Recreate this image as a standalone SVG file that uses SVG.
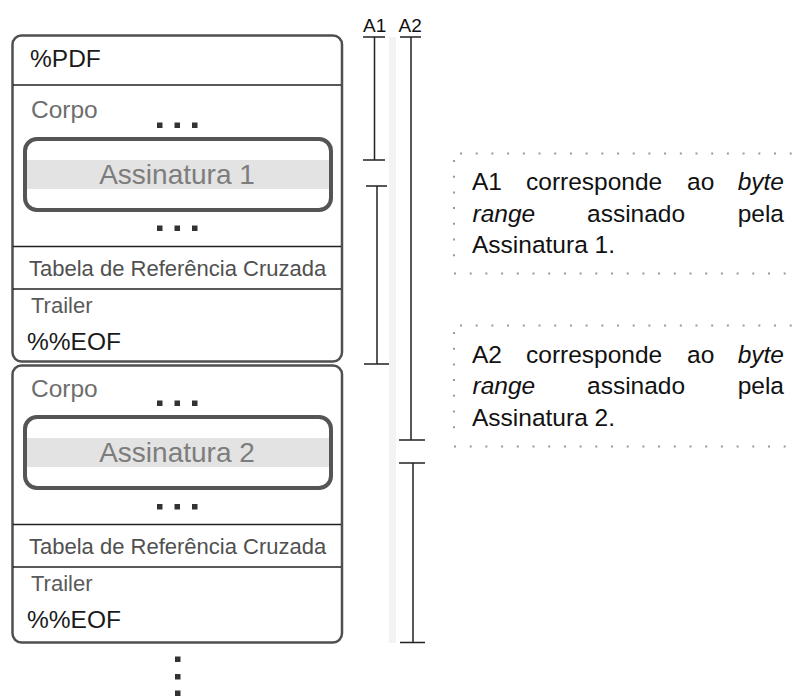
<svg xmlns="http://www.w3.org/2000/svg" width="793" height="696" viewBox="0 0 793 696">
<style>
  text { font-family: "Liberation Sans", Arial, sans-serif; }
  .outer { fill: #fff; stroke: #4f4f4f; stroke-width: 2.5; }
  .sep { stroke: #222; stroke-width: 1.5; }
  .sig { fill: none; stroke: #555; stroke-width: 4; }
  .band { fill: #e3e3e3; }
  .dot { fill: #333; }
  .black { fill: #1a1a1a; font-size: 24.5px; }
  .corpo { fill: #6e6e6e; font-size: 24.5px; }
  .tab { fill: #505050; font-size: 22px; }
  .trailer { fill: #5a5a5a; font-size: 22px; }
  .signame { fill: #7d7d7d; font-size: 28px; text-anchor: middle; }
  .lbl { fill: #111; font-size: 19px; }
  .rng { stroke: #222; stroke-width: 1.5; fill: none; }
  .note { fill: none; stroke: #999; stroke-width: 2; stroke-dasharray: 2 13.7; }
  .nt { fill: #111; font-size: 24.5px; }
  .it { font-style: italic; }
</style>

<rect x="389" y="37" width="7" height="606" fill="#f3f3f3"/>

<g id="file1">
  <rect class="outer" x="12.5" y="35.5" width="329.5" height="326" rx="9"/>
  <line class="sep" x1="13" y1="85" x2="341" y2="85"/>
  <line class="sep" x1="13" y1="246.5" x2="341" y2="246.5"/>
  <line class="sep" x1="13" y1="289" x2="341" y2="289"/>
  <text class="black" x="30" y="67">%PDF</text>
  <text class="corpo" x="31" y="118">Corpo</text>
  <rect class="dot" x="157" y="122.5" width="5.5" height="5.5"/>
  <rect class="dot" x="174.5" y="122.5" width="5.5" height="5.5"/>
  <rect class="dot" x="192" y="122.5" width="5.5" height="5.5"/>
  <g id="sig1">
    <rect class="band" x="27" y="160" width="303" height="29"/>
    <rect class="sig" x="25" y="139" width="306" height="71" rx="12"/>
    <text class="signame" x="177" y="183.5">Assinatura 1</text>
  </g>
  <rect class="dot" x="157" y="225.5" width="5.5" height="5.5"/>
  <rect class="dot" x="174.5" y="225.5" width="5.5" height="5.5"/>
  <rect class="dot" x="192" y="225.5" width="5.5" height="5.5"/>
  <text class="tab" x="29" y="276">Tabela de Referência Cruzada</text>
  <text class="trailer" x="31" y="313">Trailer</text>
  <text class="black" x="27" y="350">%%EOF</text>
</g>

<g id="file2">
  <rect class="outer" x="12.5" y="365.5" width="329.5" height="277" rx="9"/>
  <line class="sep" x1="13" y1="524.5" x2="341" y2="524.5"/>
  <line class="sep" x1="13" y1="567" x2="341" y2="567"/>
  <text class="corpo" x="31" y="396.5">Corpo</text>
  <rect class="dot" x="157" y="400.5" width="5.5" height="5.5"/>
  <rect class="dot" x="174.5" y="400.5" width="5.5" height="5.5"/>
  <rect class="dot" x="192" y="400.5" width="5.5" height="5.5"/>
  <g id="sig2">
    <rect class="band" x="27" y="438" width="303" height="29"/>
    <rect class="sig" x="25" y="417" width="306" height="71" rx="12"/>
    <text class="signame" x="177" y="461.5">Assinatura 2</text>
  </g>
  <rect class="dot" x="157" y="504" width="5.5" height="5.5"/>
  <rect class="dot" x="174.5" y="504" width="5.5" height="5.5"/>
  <rect class="dot" x="192" y="504" width="5.5" height="5.5"/>
  <text class="tab" x="29" y="554">Tabela de Referência Cruzada</text>
  <text class="trailer" x="31" y="591">Trailer</text>
  <text class="black" x="27" y="628">%%EOF</text>
</g>

<g id="more">
  <rect class="dot" x="175" y="656.5" width="5.5" height="5.5"/>
  <rect class="dot" x="175" y="674" width="5.5" height="5.5"/>
  <rect class="dot" x="175" y="690.5" width="5.5" height="5.5"/>
</g>

<g id="ranges">
  <text class="lbl" x="363" y="32">A1</text>
  <text class="lbl" x="398.5" y="32">A2</text>
  <path class="rng" d="M363 37H385M374.5 37V160M363 160H385"/>
  <path class="rng" d="M366 186H387M377 186V364M364 364H389"/>
  <path class="rng" d="M400 37H421M411 37V440M399 440H425"/>
  <path class="rng" d="M399 463H425M413 463V642.5M400 642.5H425"/>
</g>

<g id="note1">
  <path class="note" d="M460 153.5H800M454 160V268M454 273.5H800"/>
  <text class="nt" x="472" y="190">A1</text>
  <text class="nt" x="526" y="190">corresponde</text>
  <text class="nt" x="687" y="190">ao</text>
  <text class="nt it" x="784" y="190" text-anchor="end">byte</text>
  <text class="nt it" x="472.5" y="221.5">range</text>
  <text class="nt" x="587" y="221.5">assinado</text>
  <text class="nt" x="784" y="221.5" text-anchor="end">pela</text>
  <text class="nt" x="472" y="253">Assinatura 1.</text>
</g>

<g id="note2">
  <path class="note" d="M460 325.5H800M454 332V440M454 446.5H800"/>
  <text class="nt" x="472" y="362.5">A2</text>
  <text class="nt" x="526" y="362.5">corresponde</text>
  <text class="nt" x="687" y="362.5">ao</text>
  <text class="nt it" x="784" y="362.5" text-anchor="end">byte</text>
  <text class="nt it" x="472.5" y="394">range</text>
  <text class="nt" x="587" y="394">assinado</text>
  <text class="nt" x="784" y="394" text-anchor="end">pela</text>
  <text class="nt" x="472" y="425.5">Assinatura 2.</text>
</g>
</svg>
